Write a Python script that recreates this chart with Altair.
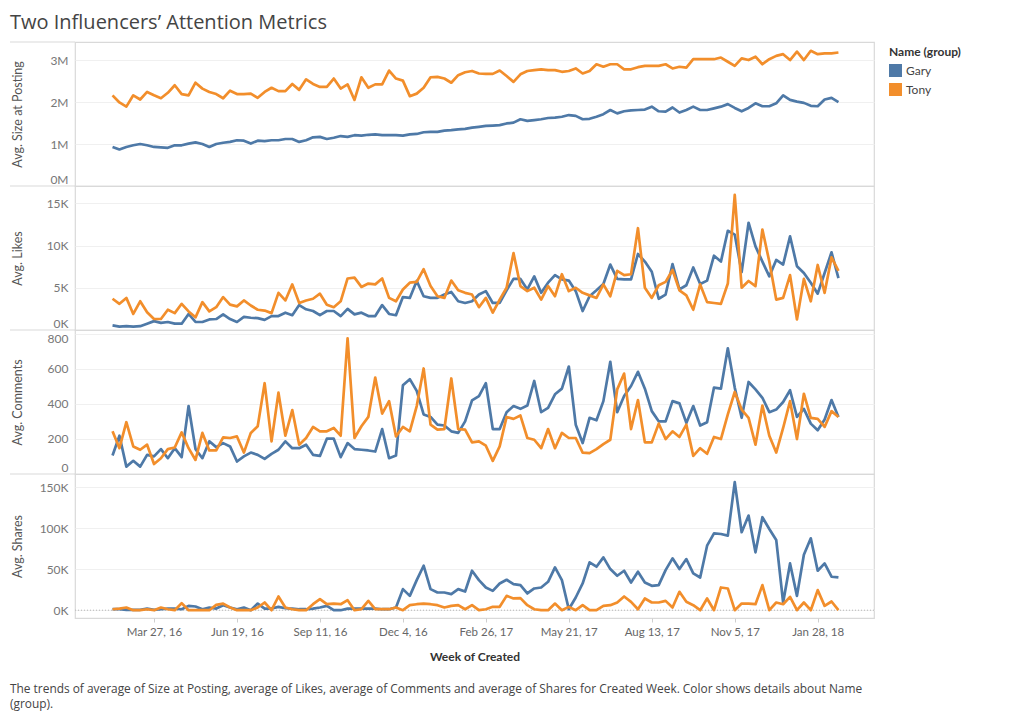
import altair as alt
import pandas as pd

# ---------------- data ----------------
weeks = pd.date_range("2016-02-14", periods=106, freq="7D")
names = ["Gary", "Tony"]

size_gary = [0.93, 0.87, 0.93, 0.97, 1.00, 0.97, 0.93, 0.92, 0.91, 0.97,
             0.97, 1.01, 1.04, 1.00, 0.93, 1.00, 1.03, 1.05, 1.09, 1.08,
             1.01, 1.08, 1.07, 1.09, 1.09, 1.12, 1.12, 1.05, 1.09, 1.16,
             1.17, 1.12, 1.15, 1.19, 1.17, 1.21, 1.20, 1.22, 1.23, 1.21,
             1.21, 1.21, 1.20, 1.23, 1.24, 1.28, 1.29,
             1.29, 1.32, 1.33, 1.35, 1.36, 1.39, 1.41, 1.43, 1.44, 1.45,
             1.49, 1.51, 1.59, 1.55, 1.57, 1.59, 1.62, 1.63, 1.65, 1.69,
             1.67, 1.59, 1.60, 1.65, 1.71, 1.81, 1.73, 1.78, 1.80, 1.81,
             1.82, 1.89, 1.78, 1.77, 1.87, 1.75, 1.81, 1.89, 1.81, 1.81,
             1.85, 1.89, 1.95, 1.86, 1.78, 1.86, 1.97, 1.90, 1.90, 1.97,
             2.16, 2.05, 2.01, 1.98, 1.91, 1.90, 2.06, 2.10, 2.00]
size_tony = [2.16, 1.99, 1.89, 2.16, 2.06, 2.24, 2.16, 2.09, 2.22, 2.40,
             2.19, 2.16, 2.46, 2.32, 2.24, 2.19, 2.09, 2.27, 2.19, 2.19,
             2.20, 2.10, 2.24, 2.34, 2.26, 2.26, 2.43, 2.29, 2.54, 2.43,
             2.36, 2.36, 2.56, 2.32, 2.42, 2.05, 2.59, 2.34, 2.42, 2.42,
             2.75, 2.56, 2.51, 2.14, 2.20, 2.34, 2.59,
             2.60, 2.56, 2.46, 2.64, 2.71, 2.74, 2.68, 2.67, 2.67, 2.75,
             2.62, 2.48, 2.66, 2.74, 2.76, 2.78, 2.76, 2.76, 2.72, 2.74,
             2.80, 2.68, 2.74, 2.90, 2.84, 2.90, 2.90, 2.78, 2.78, 2.83,
             2.86, 2.86, 2.86, 2.90, 2.80, 2.84, 2.82, 3.02, 3.02, 3.02,
             3.02, 3.06, 2.96, 2.86, 3.04, 3.00, 3.08, 2.90, 3.02, 3.10,
             3.14, 3.00, 3.20, 3.00, 3.22, 3.14, 3.16, 3.16, 3.18]

likes_gary = [0.55, 0.40, 0.45, 0.40, 0.45, 0.75, 1.05, 0.85, 0.95, 0.75,
              0.75, 1.90, 0.95, 0.95, 1.25, 1.30, 1.85, 1.30, 0.95, 1.55,
              1.45, 1.40, 1.20, 1.65, 1.65, 2.05, 1.75, 2.95, 2.45, 2.25,
              1.75, 2.25, 2.25, 1.65, 2.50, 1.85, 2.05, 1.65, 1.65, 2.95,
              1.90, 1.75, 3.90, 3.80, 5.80, 4.00, 3.80,
              3.8, 4.2, 4.5, 3.4, 3.2, 3.4, 4.2, 4.6, 3.2, 3.2,
              4.7, 6.05, 6.05, 4.8, 6.35, 4.4, 5.6, 6.5, 6.0, 5.85,
              4.6, 2.25, 4.0, 4.7, 5.45, 7.75, 6.05, 6.0, 6.0, 9.0,
              8.1, 6.9, 3.7, 4.2, 7.8, 4.8, 5.3, 7.4, 5.45, 5.85,
              8.8, 8.1, 11.75, 11.3, 6.85, 12.7, 9.9, 8.1, 6.35, 8.3,
              7.75, 11.1, 7.55, 6.75, 5.6, 4.3, 6.75, 9.2, 6.15]
likes_tony = [3.7, 3.1, 3.8, 1.9, 3.4, 2.1, 1.3, 1.3, 2.4, 2.0,
              3.1, 2.2, 1.5, 3.3, 2.2, 2.7, 3.9, 3.0, 2.8, 3.5,
              2.9, 2.4, 2.3, 2.0, 4.4, 3.5, 5.4, 3.2, 3.5, 3.7,
              4.3, 3.0, 2.7, 3.4, 6.1, 6.2, 5.1, 5.5, 5.4, 6.1,
              3.8, 3.4, 4.8, 5.6, 5.7, 7.2, 5.2,
              4.0, 3.8, 5.85, 4.7, 4.4, 4.2, 2.7, 3.8, 2.05, 3.6,
              5.0, 9.1, 5.2, 4.6, 5.0, 3.6, 5.2, 4.0, 6.6, 4.6,
              5.0, 4.4, 4.1, 3.8, 5.4, 4.0, 7.0, 6.5, 6.6, 12.05,
              5.0, 3.8, 5.3, 5.7, 7.1, 4.7, 4.1, 2.4, 5.4, 3.3,
              3.2, 3.1, 5.5, 16.0, 5.0, 5.8, 5.2, 11.9, 8.1, 3.6,
              3.8, 6.5, 1.25, 6.05, 3.4, 7.7, 4.4, 8.6, 7.0]

comments_gary = [105, 218, 42, 75, 42, 109, 100, 142, 90, 147,
                 96, 387, 142, 90, 186, 153, 176, 157, 71, 100,
                 122, 109, 86, 115, 138, 186, 147, 147, 167, 109,
                 103, 201, 201, 96, 176, 142, 138, 134, 128, 256,
                 90, 105, 505, 540, 473, 339, 325,
                 281, 276, 243, 234, 300, 419, 444, 517, 256, 256,
                 352, 387, 371, 390, 530, 352, 377, 454, 486, 612,
                 281, 176, 320, 306, 415, 639, 352, 444, 501, 582,
                 486, 358, 300, 300, 415, 402, 291, 387, 276, 295,
                 492, 486, 716, 492, 320, 524, 482, 434, 352, 367,
                 410, 477, 325, 371, 287, 249, 310, 421, 325]
comments_tony = [243, 147, 295, 157, 138, 167, 57, 90, 142, 151,
                 237, 147, 80, 234, 134, 134, 209, 205, 214, 122,
                 234, 272, 517, 186, 463, 218, 364, 167, 205, 268,
                 243, 243, 262, 218, 773, 205, 272, 325, 549, 344,
                 415, 214, 268, 243, 387, 601, 281,
                 253, 256, 544, 256, 253, 180, 186, 161, 75, 157,
                 325, 314, 333, 205, 195, 147, 256, 147, 234, 205,
                 205, 122, 119, 142, 170, 195, 482, 572, 256, 421,
                 180, 180, 287, 199, 243, 211, 281, 103, 147, 115,
                 211, 199, 339, 467, 367, 320, 167, 390, 218, 122,
                 262, 415, 199, 457, 320, 314, 268, 358, 325]

shares_gary = [1.2, 1.2, 0.5, 0.5, 0.5, 2.0, 0.5, 1.2, 2.0, 2.0,
               1.2, 5.3, 4.5, 1.2, 3.3, 2.0, 6.1, 3.3, 1.2, 3.3,
               0.0, 8.1, 2.0, 2.0, 4.1, 2.4, 2.0, 1.2, 1.2, 2.0,
               3.3, 5.3, 0.0, 0.0, 2.0, 2.0, 2.0, 2.0, 2.0, 1.2,
               1.2, 3.3, 25.7, 17.5, 36.7, 54.2, 25.7,
               21.6, 21.6, 19.6, 25.7, 22.8, 48.1, 36.7, 27.7, 23.6, 32.6,
               37.1, 31.8, 30.6, 20.4, 26.5, 27.7, 34.6, 52.2, 36.7, 1.2,
               15.5, 32.6, 58.3, 53.0, 64.4, 50.1, 42.0, 48.1, 33.8, 46.9,
               33.8, 29.7, 30.6, 48.9, 63.2, 50.1, 62.3, 44.8, 39.9, 78.6,
               93.7, 92.9, 90.9, 156.1, 95.0, 115.3, 70.5, 113.3, 99.0, 85.6,
               9.4, 57.0, 17.5, 67.6, 87.6, 48.1, 57.0, 40.8, 39.9]
shares_tony = [1.2, 2.0, 3.3, 0.0, 0.0, 1.2, 0.0, 3.3, 1.2, 0.0,
               8.6, 0.0, 0.0, 0.0, 0.0, 6.5, 8.1, 3.3, 0.0, 0.0,
               0.0, 3.3, 9.4, 0.0, 16.7, 3.3, 1.2, 0.0, 0.0, 7.3,
               13.4, 7.3, 8.1, 7.3, 12.2, 0.0, 1.2, 11.4, 1.2, 1.2,
               1.2, 3.3, 0.0, 6.1, 7.3, 8.1, 7.3,
               6.1, 3.3, 5.3, 6.1, 1.2, 6.1, 0.0, 1.2, 4.1, 4.1,
               17.5, 14.3, 14.7, 6.1, 1.2, 0.0, 0.0, 8.1, 0.0, 4.1,
               0.0, 6.1, 0.0, 0.0, 5.3, 6.1, 9.4, 16.7, 10.2, 1.2,
               14.3, 9.4, 9.4, 11.4, 3.3, 22.4, 10.2, 6.1, 0.0, 14.3,
               0.0, 27.7, 26.5, 0.0, 8.1, 8.1, 7.3, 30.6, 0.0, 9.4,
               7.3, 16.3, 0.0, 9.4, 0.0, 24.5, 5.3, 10.6, 0.0]

x_tick_dates = [(2016, 3, 27), (2016, 6, 19), (2016, 9, 11), (2016, 12, 4),
                (2017, 2, 26), (2017, 5, 21), (2017, 8, 13), (2017, 11, 5),
                (2018, 1, 28)]
x_domain = [(2016, 1, 7), (2018, 3, 26)]

title_text = "Two Influencers’ Attention Metrics"
caption_text = ("The trends of average of Size at Posting, average of Likes, average of "
                "Comments and average of Shares for Created Week.  Color shows details about Name\n(group).")

# ---------------- chart ----------------
FONT = "Lato"
TFONT = "Open Sans"
W, H = 799, 144
GARY, TONY = "#4E79A7", "#F28E2B"
BORDER = "#d9d9d9"


def dt(t):
    return alt.DateTime(year=t[0], month=t[1], date=t[2])


def frame(gary, tony):
    return pd.DataFrame({
        "week": list(weeks) * 2,
        "name": ["Gary"] * len(gary) + ["Tony"] * len(tony),
        "value": list(gary) + list(tony),
    })


def panel(gary, tony, ytitle, domain, ticks, suffix, bottom=False, zero_rule=False,
          top=False):
    df = frame(gary, tony)
    if bottom:
        xaxis = alt.Axis(values=[dt(t) for t in x_tick_dates], format="%b %-d, %y",
                         title="Week of Created", grid=False, domain=False,
                         ticks=True, tickSize=4, tickColor="#cfcfcf",
                         labelPadding=4, titlePadding=14, labelFont=FONT,
                         labelFontSize=11.5, labelColor="#666", titleFont=FONT,
                         titleFontSize=12, titleFontWeight="bold", titleColor="#333")
    else:
        xaxis = None
    yaxis = alt.Axis(values=ticks, title=ytitle,
                     labelExpr=f"datum.value + '{suffix}'" if suffix else "datum.label",
                     labelFlush=5, grid=True, gridColor="#f0f0f0", domain=False,
                     ticks=False, labelPadding=7, minExtent=42, maxExtent=42,
                     titlePadding=9, labelFont=FONT, labelFontSize=12, labelColor="#777",
                     titleFont=FONT, titleFontSize=12.5, titleFontWeight="normal",
                     titleColor="#555")
    lines = alt.Chart(df).mark_line(strokeWidth=2.7, strokeJoin="round", clip=True).encode(
        x=alt.X("week:T", scale=alt.Scale(domain=[dt(x_domain[0]), dt(x_domain[1])]),
                axis=xaxis),
        y=alt.Y("value:Q", scale=alt.Scale(domain=domain, nice=False, zero=False),
                axis=yaxis),
        color=alt.Color("name:N", scale=alt.Scale(domain=names, range=[GARY, TONY]),
                        legend=alt.Legend(title="Name (group)")),
    )
    divider = alt.Chart(pd.DataFrame({"d": [0]})).mark_rule(
        color=BORDER, strokeWidth=1.2).encode(
        x=alt.value(-65), x2=alt.value(0), y=alt.value(0))
    layers = [divider]
    if top:
        layers.append(alt.Chart(pd.DataFrame({"t": [title_text]})).mark_text(
            align="left", baseline="middle", font=TFONT, fontSize=20,
            color="#444").encode(text="t:N", x=alt.value(-65), y=alt.value(-19)))
    if zero_rule:
        layers.append(alt.Chart(pd.DataFrame({"z": [0]})).mark_rule(
            color="#b5b5b5", strokeDash=[1, 2], strokeWidth=1).encode(y=alt.Y("z:Q")))
    layers.append(lines)
    if bottom:
        layers.append(alt.Chart(pd.DataFrame({"c": [caption_text]})).mark_text(
            align="left", baseline="middle", lineBreak="\n", lineHeight=15,
            font=TFONT, fontSize=11.9, color="#444").encode(
            text="c:N", x=alt.value(-65), y=alt.value(H + 71)))
    return alt.layer(*layers).properties(width=W, height=H)


p1 = panel(size_gary, size_tony, "Avg. Size at Posting", [0, 3.43], [0, 1, 2, 3], "M",
           top=True)
p2 = panel(likes_gary, likes_tony, "Avg. Likes", [0, 17.05], [0, 5, 10, 15], "K")
p3 = panel(comments_gary, comments_tony, "Avg. Comments", [0, 820], [0, 200, 400, 600, 800], "")
p4 = panel(shares_gary, shares_tony, "Avg. Shares", [-9.5, 166], [0, 50, 100, 150], "K",
           bottom=True, zero_rule=True)

chart = alt.vconcat(p1, p2, p3, p4, spacing=0, bounds="flush").resolve_scale(
    x="shared", y="independent", color="shared"
).properties(
    padding={"left": 0, "top": 4, "right": 5, "bottom": 0},
).configure_view(
    stroke=BORDER, strokeWidth=1.2
).configure_legend(
    orient="right", offset=8, padding=5, symbolType="square", symbolSize=42,
    symbolStrokeWidth=6.5, symbolOpacity=1, clipHeight=13, titleFont=FONT,
    titleFontSize=12, titleFontWeight="bold", titleColor="#333", labelFont=FONT,
    labelFontSize=12, labelColor="#444", rowPadding=6, titlePadding=5
).configure_concat(spacing=0)

chart.save("out.html", embed_options={"renderer": "svg", "actions": False})
